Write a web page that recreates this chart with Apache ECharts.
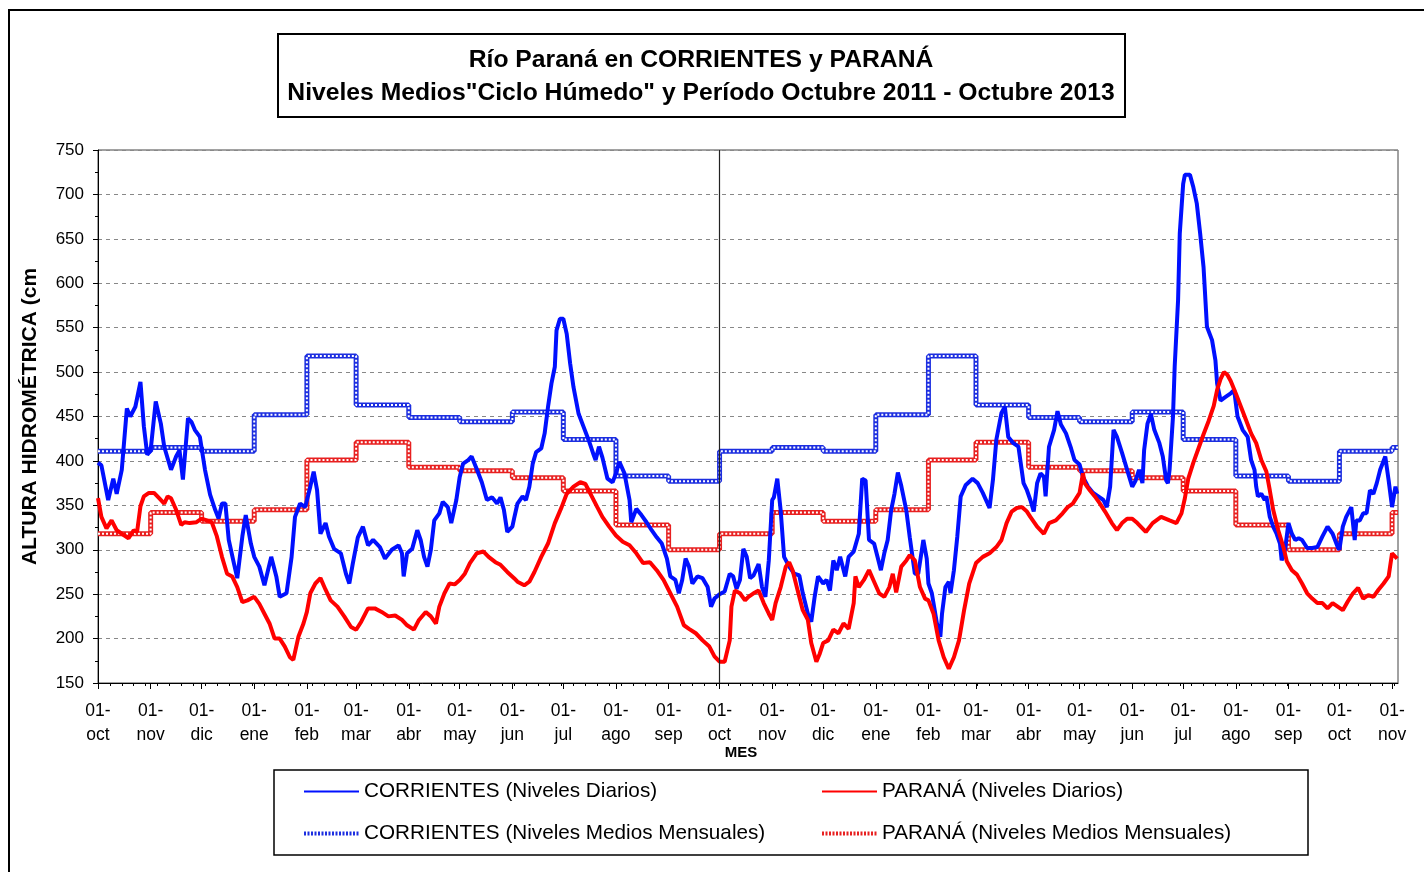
<!DOCTYPE html>
<html>
<head>
<meta charset="utf-8">
<title>Río Paraná en CORRIENTES y PARANÁ</title>
<script src="https://cdn.jsdelivr.net/npm/echarts@6/dist/echarts.min.js"></script>
<style>
  html, body { margin: 0; padding: 0; background: #fff; }
  #chart { width: 1424px; height: 872px; }
</style>
</head>
<body>
<div id="chart"></div>
<script>
// etiquetas de meses del eje X
var monthNames = ['ene', 'feb', 'mar', 'abr', 'may', 'jun', 'jul', 'ago', 'sep', 'oct', 'nov', 'dic']

// medias mensuales "ciclo húmedo", de octubre a septiembre
var corrMonthly = [411, 415, 411, 452, 518, 463, 449, 444, 455, 424, 383, 377]
var parMonthly = [318, 342, 332, 345, 401, 421, 393, 389, 381, 366, 328, 300]

// CORRIENTES niveles diarios (cm)
var corrDaily = [
  ['2011-10-01', 398], ['2011-10-03', 395], ['2011-10-07', 356], ['2011-10-10', 380], ['2011-10-12', 363],
  ['2011-10-15', 390], ['2011-10-18', 459], ['2011-10-20', 450], ['2011-10-23', 461], ['2011-10-26', 489],
  ['2011-10-28', 439], ['2011-10-30', 407], ['2011-11-01', 412], ['2011-11-04', 467], ['2011-11-07', 442],
  ['2011-11-09', 416], ['2011-11-13', 390], ['2011-11-16', 405], ['2011-11-18', 412], ['2011-11-20', 379],
  ['2011-11-23', 448], ['2011-11-25', 444], ['2011-11-27', 435], ['2011-11-30', 427], ['2011-12-03', 390],
  ['2011-12-06', 362], ['2011-12-09', 345], ['2011-12-11', 335], ['2011-12-13', 352], ['2011-12-15', 352],
  ['2011-12-17', 311], ['2011-12-20', 285], ['2011-12-22', 268], ['2011-12-25', 315], ['2011-12-27', 339],
  ['2011-12-30', 307], ['2012-01-01', 292], ['2012-01-04', 281], ['2012-01-07', 260], ['2012-01-11', 292],
  ['2012-01-14', 270], ['2012-01-16', 247], ['2012-01-20', 251], ['2012-01-23', 292], ['2012-01-25', 337],
  ['2012-01-28', 352], ['2012-01-31', 348], ['2012-02-03', 371], ['2012-02-05', 388], ['2012-02-07', 367],
  ['2012-02-09', 318], ['2012-02-12', 330], ['2012-02-14', 315], ['2012-02-17', 301], ['2012-02-21', 296],
  ['2012-02-24', 273], ['2012-02-26', 262], ['2012-02-28', 284], ['2012-03-02', 314], ['2012-03-05', 326],
  ['2012-03-08', 305], ['2012-03-11', 311], ['2012-03-15', 303], ['2012-03-18', 290], ['2012-03-22', 300],
  ['2012-03-26', 305], ['2012-03-28', 296], ['2012-03-29', 270], ['2012-03-31', 296], ['2012-04-03', 301],
  ['2012-04-06', 322], ['2012-04-08', 311], ['2012-04-10', 292], ['2012-04-12', 281], ['2012-04-14', 300],
  ['2012-04-16', 333], ['2012-04-19', 341], ['2012-04-21', 354], ['2012-04-24', 348], ['2012-04-26', 330],
  ['2012-04-29', 356], ['2012-05-01', 382], ['2012-05-03', 397], ['2012-05-06', 401], ['2012-05-08', 405],
  ['2012-05-11', 391], ['2012-05-14', 376], ['2012-05-17', 356], ['2012-05-20', 359], ['2012-05-23', 352],
  ['2012-05-25', 359], ['2012-05-27', 345], ['2012-05-29', 320], ['2012-06-01', 326], ['2012-06-02', 335],
  ['2012-06-04', 352], ['2012-06-07', 360], ['2012-06-09', 356], ['2012-06-11', 371], ['2012-06-13', 397],
  ['2012-06-15', 410], ['2012-06-18', 414], ['2012-06-20', 431], ['2012-06-22', 461], ['2012-06-24', 487],
  ['2012-06-26', 506], ['2012-06-27', 547], ['2012-06-29', 560], ['2012-07-01', 560], ['2012-07-03', 543],
  ['2012-07-05', 510], ['2012-07-07', 483], ['2012-07-10', 453], ['2012-07-13', 438], ['2012-07-16', 423],
  ['2012-07-19', 406], ['2012-07-20', 401], ['2012-07-22', 416], ['2012-07-24', 404], ['2012-07-27', 380],
  ['2012-07-30', 376], ['2012-08-01', 386], ['2012-08-03', 399], ['2012-08-06', 386], ['2012-08-09', 356],
  ['2012-08-10', 331], ['2012-08-13', 346], ['2012-08-16', 339], ['2012-08-19', 331], ['2012-08-22', 322],
  ['2012-08-25', 314], ['2012-08-28', 307], ['2012-08-31', 290], ['2012-09-02', 270], ['2012-09-05', 266],
  ['2012-09-07', 251], ['2012-09-09', 266], ['2012-09-11', 290], ['2012-09-13', 281], ['2012-09-15', 262],
  ['2012-09-18', 270], ['2012-09-21', 268], ['2012-09-24', 258], ['2012-09-26', 236], ['2012-09-28', 245],
  ['2012-10-01', 250], ['2012-10-04', 253], ['2012-10-07', 273], ['2012-10-09', 270], ['2012-10-11', 256],
  ['2012-10-13', 266], ['2012-10-15', 301], ['2012-10-17', 292], ['2012-10-19', 268], ['2012-10-21', 271],
  ['2012-10-24', 284], ['2012-10-26', 258], ['2012-10-28', 247], ['2012-10-30', 288], ['2012-11-01', 356],
  ['2012-11-02', 359], ['2012-11-04', 380], ['2012-11-06', 344], ['2012-11-08', 292], ['2012-11-11', 281],
  ['2012-11-14', 273], ['2012-11-17', 271], ['2012-11-19', 251], ['2012-11-22', 228], ['2012-11-24', 219],
  ['2012-11-26', 247], ['2012-11-28', 270], ['2012-12-01', 262], ['2012-12-03', 266], ['2012-12-05', 254],
  ['2012-12-07', 288], ['2012-12-09', 277], ['2012-12-11', 292], ['2012-12-14', 270], ['2012-12-16', 292],
  ['2012-12-19', 298], ['2012-12-22', 318], ['2012-12-24', 380], ['2012-12-26', 378], ['2012-12-28', 311],
  ['2012-12-31', 307], ['2013-01-02', 292], ['2013-01-04', 277], ['2013-01-06', 296], ['2013-01-08', 311],
  ['2013-01-10', 344], ['2013-01-12', 363], ['2013-01-14', 387], ['2013-01-16', 372], ['2013-01-19', 344],
  ['2013-01-21', 314], ['2013-01-24', 273], ['2013-01-26', 273], ['2013-01-29', 311], ['2013-01-31', 290],
  ['2013-02-01', 262], ['2013-02-03', 251], ['2013-02-06', 217], ['2013-02-08', 202], ['2013-02-09', 228],
  ['2013-02-11', 258], ['2013-02-13', 264], ['2013-02-14', 251], ['2013-02-16', 277], ['2013-02-18', 315],
  ['2013-02-20', 360], ['2013-02-23', 373], ['2013-02-27', 380], ['2013-03-02', 375], ['2013-03-05', 364],
  ['2013-03-09', 347], ['2013-03-11', 379], ['2013-03-13', 424], ['2013-03-16', 454], ['2013-03-18', 461],
  ['2013-03-20', 427], ['2013-03-23', 420], ['2013-03-26', 416], ['2013-03-29', 375], ['2013-03-31', 367],
  ['2013-04-02', 356], ['2013-04-04', 343], ['2013-04-06', 375], ['2013-04-08', 386], ['2013-04-10', 382],
  ['2013-04-11', 360], ['2013-04-13', 416], ['2013-04-16', 435], ['2013-04-18', 456], ['2013-04-20', 441],
  ['2013-04-23', 431], ['2013-04-26', 414], ['2013-04-28', 401], ['2013-05-01', 396], ['2013-05-03', 382],
  ['2013-05-06', 371], ['2013-05-09', 364], ['2013-05-12', 360], ['2013-05-15', 356], ['2013-05-17', 348],
  ['2013-05-19', 371], ['2013-05-21', 435], ['2013-05-23', 427], ['2013-05-26', 409], ['2013-05-29', 390],
  ['2013-06-01', 371], ['2013-06-03', 378], ['2013-06-05', 390], ['2013-06-07', 375], ['2013-06-08', 412],
  ['2013-06-10', 442], ['2013-06-12', 453], ['2013-06-14', 435], ['2013-06-17', 420], ['2013-06-19', 405],
  ['2013-06-21', 378], ['2013-06-22', 375], ['2013-06-23', 390], ['2013-06-25', 450], ['2013-06-26', 506],
  ['2013-06-28', 581], ['2013-06-29', 656], ['2013-07-01', 712], ['2013-07-02', 722], ['2013-07-05', 722],
  ['2013-07-07', 708], ['2013-07-09', 690], ['2013-07-11', 656], ['2013-07-13', 618], ['2013-07-15', 551],
  ['2013-07-18', 536], ['2013-07-20', 513], ['2013-07-21', 487], ['2013-07-23', 468], ['2013-07-26', 472],
  ['2013-07-29', 476], ['2013-07-31', 480], ['2013-08-02', 450], ['2013-08-05', 435], ['2013-08-08', 427],
  ['2013-08-10', 401], ['2013-08-12', 390], ['2013-08-13', 371], ['2013-08-14', 360], ['2013-08-16', 363],
  ['2013-08-18', 356], ['2013-08-19', 360], ['2013-08-21', 337], ['2013-08-23', 326], ['2013-08-25', 318],
  ['2013-08-27', 307], ['2013-08-28', 288], ['2013-08-30', 300], ['2013-09-01', 330], ['2013-09-03', 318],
  ['2013-09-05', 311], ['2013-09-07', 313], ['2013-09-09', 311], ['2013-09-12', 302], ['2013-09-15', 302],
  ['2013-09-18', 303], ['2013-09-21', 315], ['2013-09-24', 326], ['2013-09-27', 318], ['2013-09-30', 303],
  ['2013-10-01', 300], ['2013-10-03', 326], ['2013-10-05', 337], ['2013-10-08', 348], ['2013-10-10', 311],
  ['2013-10-11', 333], ['2013-10-13', 333], ['2013-10-15', 341], ['2013-10-17', 341], ['2013-10-19', 367],
  ['2013-10-21', 363], ['2013-10-23', 375], ['2013-10-25', 390], ['2013-10-28', 405], ['2013-10-30', 378],
  ['2013-11-01', 348], ['2013-11-03', 371], ['2013-11-04', 363]
]

// PARANÁ niveles diarios (cm)
var parDaily = [
  ['2011-10-01', 358], ['2011-10-03', 337], ['2011-10-06', 324], ['2011-10-09', 333], ['2011-10-12', 322],
  ['2011-10-15', 318], ['2011-10-19', 313], ['2011-10-22', 322], ['2011-10-24', 320], ['2011-10-26', 349],
  ['2011-10-28', 360], ['2011-10-31', 364], ['2011-11-03', 364], ['2011-11-06', 358], ['2011-11-09', 352],
  ['2011-11-11', 360], ['2011-11-13', 358], ['2011-11-16', 345], ['2011-11-19', 328], ['2011-11-21', 331],
  ['2011-11-24', 330], ['2011-11-28', 331], ['2011-12-01', 335], ['2011-12-04', 333], ['2011-12-07', 331],
  ['2011-12-10', 315], ['2011-12-13', 292], ['2011-12-16', 273], ['2011-12-19', 270], ['2011-12-22', 258],
  ['2011-12-25', 241], ['2011-12-28', 243], ['2012-01-01', 247], ['2012-01-04', 239], ['2012-01-07', 228],
  ['2012-01-10', 217], ['2012-01-13', 200], ['2012-01-16', 200], ['2012-01-19', 191], ['2012-01-22', 179],
  ['2012-01-24', 176], ['2012-01-27', 202], ['2012-01-30', 217], ['2012-02-01', 230], ['2012-02-03', 251],
  ['2012-02-06', 262], ['2012-02-09', 268], ['2012-02-12', 255], ['2012-02-15', 243], ['2012-02-19', 236],
  ['2012-02-23', 225], ['2012-02-27', 213], ['2012-03-01', 210], ['2012-03-04', 219], ['2012-03-08', 234],
  ['2012-03-12', 234], ['2012-03-16', 230], ['2012-03-20', 225], ['2012-03-24', 226], ['2012-03-28', 221],
  ['2012-03-31', 215], ['2012-04-04', 210], ['2012-04-07', 221], ['2012-04-11', 230], ['2012-04-14', 225],
  ['2012-04-17', 217], ['2012-04-19', 236], ['2012-04-22', 251], ['2012-04-25', 262], ['2012-04-28', 261],
  ['2012-05-01', 266], ['2012-05-04', 273], ['2012-05-07', 285], ['2012-05-11', 296], ['2012-05-15', 298],
  ['2012-05-18', 292], ['2012-05-22', 286], ['2012-05-25', 283], ['2012-05-29', 275], ['2012-06-02', 268],
  ['2012-06-04', 264], ['2012-06-08', 260], ['2012-06-11', 264], ['2012-06-14', 275], ['2012-06-18', 292],
  ['2012-06-22', 307], ['2012-06-26', 330], ['2012-06-30', 348], ['2012-07-03', 363], ['2012-07-07', 371],
  ['2012-07-11', 376], ['2012-07-14', 374], ['2012-07-17', 363], ['2012-07-21', 348], ['2012-07-24', 337],
  ['2012-07-28', 326], ['2012-08-01', 316], ['2012-08-05', 309], ['2012-08-09', 305], ['2012-08-13', 296],
  ['2012-08-17', 285], ['2012-08-21', 286], ['2012-08-25', 277], ['2012-08-29', 266], ['2012-09-02', 251],
  ['2012-09-06', 236], ['2012-09-10', 215], ['2012-09-13', 211], ['2012-09-17', 206], ['2012-09-21', 198],
  ['2012-09-25', 191], ['2012-09-28', 180], ['2012-10-01', 174], ['2012-10-04', 174], ['2012-10-07', 198],
  ['2012-10-08', 236], ['2012-10-10', 254], ['2012-10-13', 251], ['2012-10-16', 243], ['2012-10-18', 247],
  ['2012-10-21', 251], ['2012-10-24', 254], ['2012-10-27', 240], ['2012-10-30', 228], ['2012-11-01', 221],
  ['2012-11-03', 240], ['2012-11-06', 258], ['2012-11-09', 281], ['2012-11-11', 286], ['2012-11-13', 277],
  ['2012-11-16', 254], ['2012-11-19', 232], ['2012-11-22', 221], ['2012-11-24', 195], ['2012-11-27', 174],
  ['2012-11-29', 183], ['2012-12-01', 195], ['2012-12-04', 198], ['2012-12-07', 210], ['2012-12-10', 206],
  ['2012-12-13', 217], ['2012-12-16', 211], ['2012-12-19', 240], ['2012-12-20', 270], ['2012-12-22', 258],
  ['2012-12-25', 266], ['2012-12-28', 277], ['2012-12-31', 264], ['2013-01-03', 251], ['2013-01-06', 247],
  ['2013-01-09', 258], ['2013-01-11', 273], ['2013-01-13', 252], ['2013-01-16', 281], ['2013-01-19', 288],
  ['2013-01-21', 294], ['2013-01-24', 288], ['2013-01-27', 258], ['2013-01-30', 245], ['2013-02-01', 243],
  ['2013-02-04', 228], ['2013-02-07', 198], ['2013-02-10', 179], ['2013-02-13', 166], ['2013-02-16', 179],
  ['2013-02-19', 198], ['2013-02-22', 232], ['2013-02-25', 262], ['2013-03-01', 285], ['2013-03-05', 292],
  ['2013-03-09', 296], ['2013-03-13', 303], ['2013-03-16', 311], ['2013-03-19', 330], ['2013-03-22', 343],
  ['2013-03-25', 347], ['2013-03-28', 348], ['2013-03-31', 343], ['2013-04-02', 337], ['2013-04-06', 326],
  ['2013-04-10', 318], ['2013-04-13', 330], ['2013-04-17', 333], ['2013-04-21', 341], ['2013-04-24', 348],
  ['2013-04-27', 352], ['2013-05-01', 364], ['2013-05-03', 386], ['2013-05-04', 375], ['2013-05-07', 367],
  ['2013-05-10', 360], ['2013-05-13', 352], ['2013-05-16', 343], ['2013-05-20', 330], ['2013-05-23', 322],
  ['2013-05-26', 330], ['2013-05-29', 335], ['2013-06-01', 335], ['2013-06-04', 330], ['2013-06-09', 320],
  ['2013-06-13', 330], ['2013-06-18', 337], ['2013-06-23', 333], ['2013-06-27', 330], ['2013-06-30', 341],
  ['2013-07-02', 358], ['2013-07-04', 380], ['2013-07-07', 398], ['2013-07-10', 414], ['2013-07-13', 430],
  ['2013-07-16', 445], ['2013-07-19', 462], ['2013-07-21', 480], ['2013-07-23', 492], ['2013-07-25', 500],
  ['2013-07-27', 497], ['2013-07-29', 490], ['2013-08-01', 476], ['2013-08-04', 461], ['2013-08-07', 446],
  ['2013-08-10', 431], ['2013-08-13', 420], ['2013-08-16', 401], ['2013-08-19', 388], ['2013-08-21', 367],
  ['2013-08-23', 345], ['2013-08-26', 322], ['2013-08-29', 303], ['2013-08-31', 287], ['2013-09-03', 277],
  ['2013-09-06', 272], ['2013-09-09', 262], ['2013-09-12', 251], ['2013-09-15', 245], ['2013-09-18', 240],
  ['2013-09-21', 240], ['2013-09-24', 234], ['2013-09-27', 240], ['2013-09-30', 236], ['2013-10-03', 232],
  ['2013-10-06', 242], ['2013-10-09', 251], ['2013-10-12', 257], ['2013-10-15', 245], ['2013-10-18', 249],
  ['2013-10-21', 247], ['2013-10-24', 255], ['2013-10-27', 262], ['2013-10-30', 270], ['2013-11-01', 296],
  ['2013-11-04', 290]
]

var FONT = '"Liberation Sans", Arial, sans-serif'
var DAY = 86400000

// fecha 'AAAA-MM-DD' -> milisegundos (hora local)
function toTime (s) {
  var p = s.split('-')
  return new Date(+p[0], +p[1] - 1, +p[2]).getTime()
}
function toPoints (arr) {
  return arr.map(function (d) { return [toTime(d[0]), d[1]] })
}

var xMin = new Date(2011, 9, 1).getTime()
var xMax = new Date(2013, 10, 4, 12).getTime()

// inicio de cada mes (ticks mayores) y ticks semanales
var monthStarts = []
for (var i = 0; i <= 25; i++) monthStarts.push(new Date(2011, 9 + i, 1).getTime())
var weekTicks = []
for (var t = xMin; t <= xMax; t += 7 * DAY) weekTicks.push(t)

// escalones de las medias mensuales
function monthlySteps (means) {
  var pts = monthStarts.map(function (ms, k) { return [ms, means[k % 12]] })
  pts.push([xMax, means[(monthStarts.length - 1) % 12]])
  return pts
}

var legendCommon = {
  orient: 'vertical', top: 781, padding: 0, itemWidth: 55, itemHeight: 20, itemGap: 21,
  itemStyle: { opacity: 0 },
  textStyle: { fontSize: 20.7, color: '#000', fontFamily: FONT }
}

var chart = echarts.init(document.getElementById('chart'))

var option = {
  animation: false,
  backgroundColor: '#fff',
  textStyle: { fontFamily: FONT },
  grid: { left: 98, right: 26, top: 150, bottom: 189, show: true, borderColor: '#444', borderWidth: 1 },
  legend: [
    Object.assign({}, legendCommon, {
      left: 302,
      data: [
        'CORRIENTES (Niveles Diarios)',
        { name: 'CORRIENTES (Niveles Medios Mensuales)', lineStyle: { type: [2, 1.5], width: 4 } }
      ]
    }),
    Object.assign({}, legendCommon, {
      left: 820,
      data: [
        'PARANÁ (Niveles Diarios)',
        { name: 'PARANÁ (Niveles Medios Mensuales)', lineStyle: { type: [2, 1.5], width: 4 } }
      ]
    })
  ],
  xAxis: [
    {
      type: 'value', min: xMin, max: xMax,
      name: 'MES', nameLocation: 'middle', nameGap: 62, nameMoveOverlap: false,
      nameTextStyle: { fontSize: 15, fontWeight: 'bold', color: '#000', padding: [0, 14, 0, 0] },
      axisLine: { lineStyle: { color: '#000', width: 1 } },
      axisTick: { customValues: monthStarts, length: 6, lineStyle: { color: '#000' } },
      axisLabel: {
        customValues: monthStarts, margin: 16, color: '#000', fontSize: 17.5, lineHeight: 24,
        formatter: function (v) { return '01-\n' + monthNames[new Date(v).getMonth()] }
      },
      splitLine: { show: false }
    },
    {
      type: 'value', min: xMin, max: xMax, position: 'bottom',
      axisLine: { show: false },
      axisTick: { customValues: weekTicks, length: 3, lineStyle: { color: '#000' } },
      axisLabel: { show: false },
      splitLine: { show: false }
    }
  ],
  yAxis: {
    type: 'value', min: 150, max: 750, interval: 50,
    name: 'ALTURA HIDROMÉTRICA (cm', nameLocation: 'middle', nameGap: 57,
    nameTextStyle: { fontSize: 21, fontWeight: 'bold', color: '#000' },
    axisLine: { show: true, lineStyle: { color: '#000' } },
    axisTick: { show: true, length: 5, lineStyle: { color: '#000' } },
    minorTick: { show: true, splitNumber: 2, length: 3, lineStyle: { color: '#000' } },
    axisLabel: { color: '#000', fontSize: 17, margin: 14 },
    splitLine: { lineStyle: { color: '#888', type: [4, 4], width: 1 } }
  },
  series: [
    {
      name: 'CORRIENTES (Niveles Medios Mensuales)', type: 'line', step: 'end', symbol: 'none',
      color: '#1c2ee0', lineStyle: { width: 5, color: '#1c2ee0' },
      data: monthlySteps(corrMonthly)
    },
    {
      name: 'corr-dots', type: 'line', step: 'end', symbol: 'none', silent: true,
      lineStyle: { width: 2, color: '#fff', type: [2, 2] },
      data: monthlySteps(corrMonthly)
    },
    {
      name: 'PARANÁ (Niveles Medios Mensuales)', type: 'line', step: 'end', symbol: 'none',
      color: '#e82020', lineStyle: { width: 5, color: '#e82020' },
      data: monthlySteps(parMonthly)
    },
    {
      name: 'par-dots', type: 'line', step: 'end', symbol: 'none', silent: true,
      lineStyle: { width: 2, color: '#fff', type: [2, 2] },
      data: monthlySteps(parMonthly)
    },
    {
      name: 'CORRIENTES (Niveles Diarios)', type: 'line', symbol: 'none',
      color: '#0010ff', lineStyle: { width: 4, color: '#0010ff' },
      data: toPoints(corrDaily),
      markLine: {
        silent: true, symbol: ['none', 'none'], label: { show: false },
        lineStyle: { color: '#222', width: 1.2, type: 'solid' },
        data: [{ xAxis: new Date(2012, 9, 1).getTime() }]
      }
    },
    {
      name: 'PARANÁ (Niveles Diarios)', type: 'line', symbol: 'none',
      color: '#ff0000', lineStyle: { width: 4, color: '#ff0000' },
      data: toPoints(parDaily)
    }
  ],
  graphic: [
    { type: 'rect', shape: { x: 9, y: 10, width: 1440, height: 900 }, style: { fill: 'none', stroke: '#000', lineWidth: 2 }, silent: true },
    { type: 'rect', shape: { x: 278, y: 34, width: 847, height: 83 }, style: { fill: 'none', stroke: '#000', lineWidth: 2 }, silent: true },
    { type: 'text', x: 701, y: 60, style: { text: 'Río Paraná en CORRIENTES y PARANÁ', fill: '#000', font: 'bold 24.7px ' + FONT, align: 'center', verticalAlign: 'middle' }, silent: true },
    { type: 'text', x: 701, y: 93, style: { text: 'Niveles Medios"Ciclo Húmedo" y Período Octubre 2011 - Octubre 2013', fill: '#000', font: 'bold 24.7px ' + FONT, align: 'center', verticalAlign: 'middle' }, silent: true },
    { type: 'rect', shape: { x: 274, y: 770, width: 1034, height: 85 }, style: { fill: 'none', stroke: '#000', lineWidth: 1.5 }, silent: true }
  ]
}

chart.setOption(option)
</script>
</body>
</html>
